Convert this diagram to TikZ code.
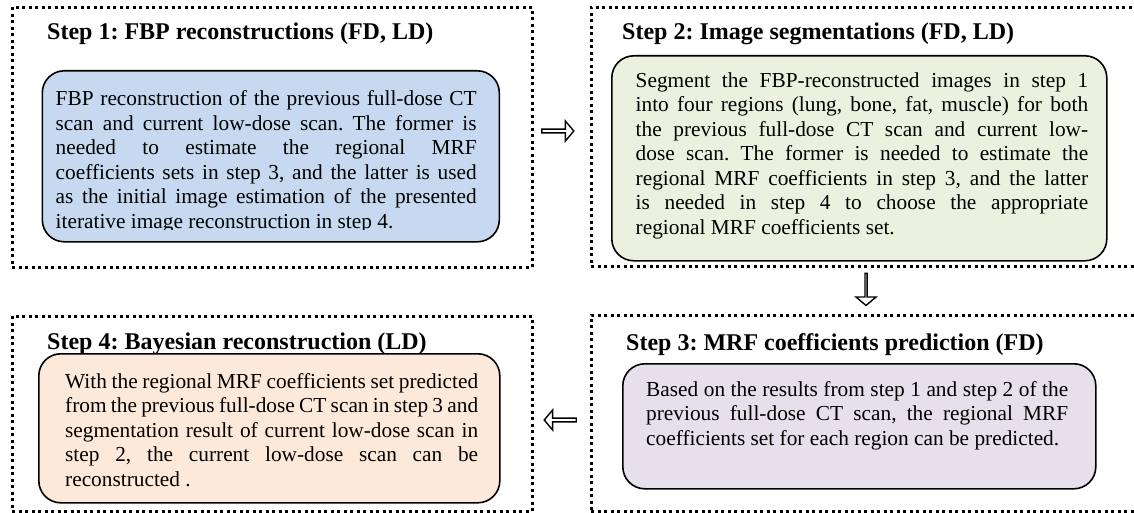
\documentclass[tikz,border=0pt]{standalone}
\usepackage{fontspec}
\setmainfont{Liberation Serif}
\usetikzlibrary{shapes.arrows}
\definecolor{bluefill}{RGB}{198,217,241}
\definecolor{greenfill}{RGB}{235,241,222}
\definecolor{peachfill}{RGB}{253,233,217}
\definecolor{purplefill}{RGB}{229,224,236}
\frenchspacing
\tikzset{
 frame/.style={draw, line width=2.6pt, dash pattern=on 3pt off 3.5pt, inner sep=0pt, anchor=north west},
 panel/.style={draw, line width=1.6pt, rounded corners=22pt, inner sep=0pt, anchor=north west},
 steptitle/.style={font=\fontsize{24}{28}\selectfont\bfseries, anchor=base west, inner sep=0pt},
 bodytext/.style={font=\fontsize{21.33}{24.5}\selectfont, align=justify, anchor=north west, inner sep=0pt},
 blockarrow/.style={single arrow, draw, line width=1.4pt, fill=white, minimum height=32pt, minimum width=20pt, single arrow head extend=3pt, single arrow tip angle=100, inner sep=0pt}
}
\begin{document}
\begin{tikzpicture}[x=1pt,y=-1pt]
\useasboundingbox (0,0) rectangle (1134,513);
\clip (0,0) rectangle (1134,513);
% frames
\node[frame, minimum width=520pt, minimum height=260pt] (f1) at (11,6) {};
\node[frame, minimum width=560pt, minimum height=259pt] (f2) at (590,6) {};
\node[frame, minimum width=560pt, minimum height=196pt] (f3) at (590,314) {};
\node[frame, minimum width=520pt, minimum height=195pt] (f4) at (11,315) {};
% titles
\node[steptitle] (h1) at (47,40) {Step 1: FBP reconstructions (FD, LD)};
\node[steptitle] (h2) at (622,40) {Step 2: Image segmentations (FD, LD)};
\node[steptitle] (h3) at (626,350) {Step 3: MRF coefficients prediction (FD)};
\node[steptitle] (h4) at (47,349) {Step 4: Bayesian reconstruction (LD)};
% panels
\node[panel, fill=bluefill, minimum width=457pt, minimum height=171pt] (p1) at (41.5,70) {};
\node[panel, fill=greenfill, minimum width=495pt, minimum height=205pt] (p2) at (611,55) {};
\node[panel, fill=purplefill, minimum width=473pt, minimum height=125pt] (p3) at (622,363) {};
\node[panel, fill=peachfill, minimum width=461pt, minimum height=149pt] (p4) at (38,353) {};
% texts
\begin{scope}
\clip (41.5,70) rectangle (498.5,229);
\node[bodytext, text width=421pt] (t1) at (55.5,90.3) {FBP reconstruction of the previous full-dose CT\linebreak
scan and current low-dose scan. The former is\linebreak
needed to estimate the regional MRF\linebreak
coefficients sets in step 3, and the latter is used\linebreak
as the initial image estimation of the presented\linebreak
iterative image reconstruction in step 4.};
\end{scope}
\node[bodytext, text width=452.5pt] (t2) at (635.5,72.5) {Segment the FBP-reconstructed images in step 1\linebreak
into four regions (lung, bone, fat, muscle) for both\linebreak
the previous full-dose CT scan and current low-\linebreak
dose scan. The former is needed to estimate the\linebreak
regional MRF coefficients in step 3, and the latter\linebreak
is needed in step 4 to choose the appropriate\linebreak
regional MRF coefficients set.};
\node[bodytext, text width=422pt] (t3) at (646,381) {Based on the results from step 1 and step 2 of the\linebreak
previous full-dose CT scan, the regional MRF\linebreak
coefficients set for each region can be predicted.};
\node[bodytext, text width=413pt] (t4) at (65,373) {With the regional MRF coefficients set predicted\linebreak
from the previous full-dose CT scan in step 3 and\linebreak
segmentation result of current low-dose scan in\linebreak
step 2, the current low-dose scan can be\linebreak
reconstructed .};
% arrows
\node[blockarrow] (a12) at (557,131) {};
\node[blockarrow, shape border rotate=270, single arrow head extend=6pt] (a23) at (866,289) {};
\node[blockarrow, shape border rotate=180] (a34) at (561,420) {};
\end{tikzpicture}
\end{document}
